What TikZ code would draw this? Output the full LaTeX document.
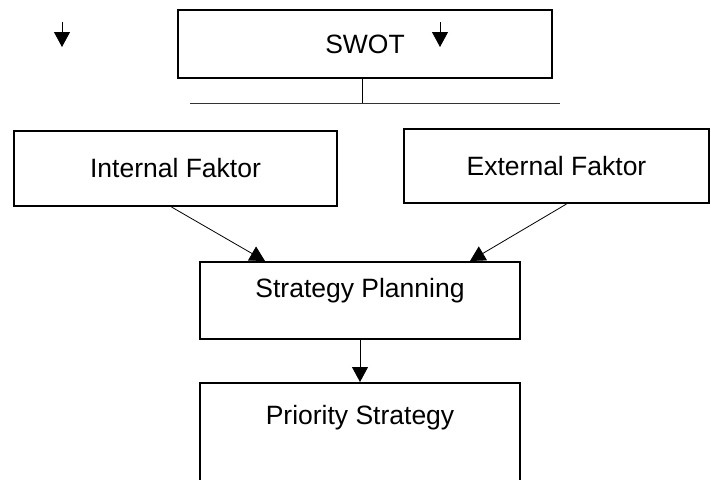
\documentclass[tikz,border=0pt]{standalone}
\usepackage{fontspec}
\setmainfont{Liberation Sans}
\usetikzlibrary{
  arrows.meta,
  positioning
}
\definecolor{swLine}{HTML}{000000}
\definecolor{swBar}{HTML}{333333}
\tikzset{
  swnode/.style={
    draw=swLine, line width=2pt, inner sep=0pt,
    font=\fontsize{26.5}{30}\selectfont, align=center
  },
  topbox/.style={swnode, minimum width=374pt, minimum height=68pt},
  factor/.style={swnode, minimum height=75pt},
  planbox/.style={swnode, minimum width=320pt, minimum height=77pt},
  txt/.style={font=\fontsize{26.5}{30}\selectfont, inner sep=0pt},
  conn/.style={-{Triangle[length=15pt, width=16pt]}, line width=0.8pt, swLine},
  barline/.style={line width=0.9pt, swBar}
}
\begin{document}
\begin{tikzpicture}[x=1pt, y=-1pt]
  \useasboundingbox (0,0) rectangle (711,479);
  \clip (0,0) rectangle (711,479);
  \node[topbox] (swot) at (365,44) {SWOT};
  \node[factor, minimum width=323pt] (internal) at (175.5,168.5) {Internal Faktor};
  \node[factor, minimum width=305pt, minimum height=74pt] (external) at (556.5,166) {External Faktor};
  \node[planbox, label={[txt, yshift=10pt]center:Strategy Planning}] (strategy) at (360,300.5) {};
  \node[planbox, minimum height=120pt, label={[txt, yshift=25pt]center:Priority Strategy}] (priority) at (360,443) {};
  % small arrows near the top box
  \coordinate (la1) at (62,22);
  \coordinate (la2) at (62,47);
  \coordinate (ra1) at (440,22);
  \coordinate (ra2) at (440,47);
  \draw[conn] (la1) -- (la2);
  \draw[conn] (ra1) -- (ra2);
  % branch under SWOT
  \coordinate (barl) at (190,103);
  \coordinate (barr) at (560,103);
  \draw[barline] (barl) -- (barr);
  \draw[line width=0.8pt] ([xshift=-3pt]swot.south) -- ([xshift=-3pt]swot.south |- barl);
  \draw[conn] ([xshift=-4pt]internal.south) -- ([xshift=-95pt]strategy.north);
  \draw[conn] ([xshift=10pt]external.south) -- ([xshift=110pt]strategy.north);
  \draw[conn] (strategy.south) -- (priority.north);
\end{tikzpicture}
\end{document}
